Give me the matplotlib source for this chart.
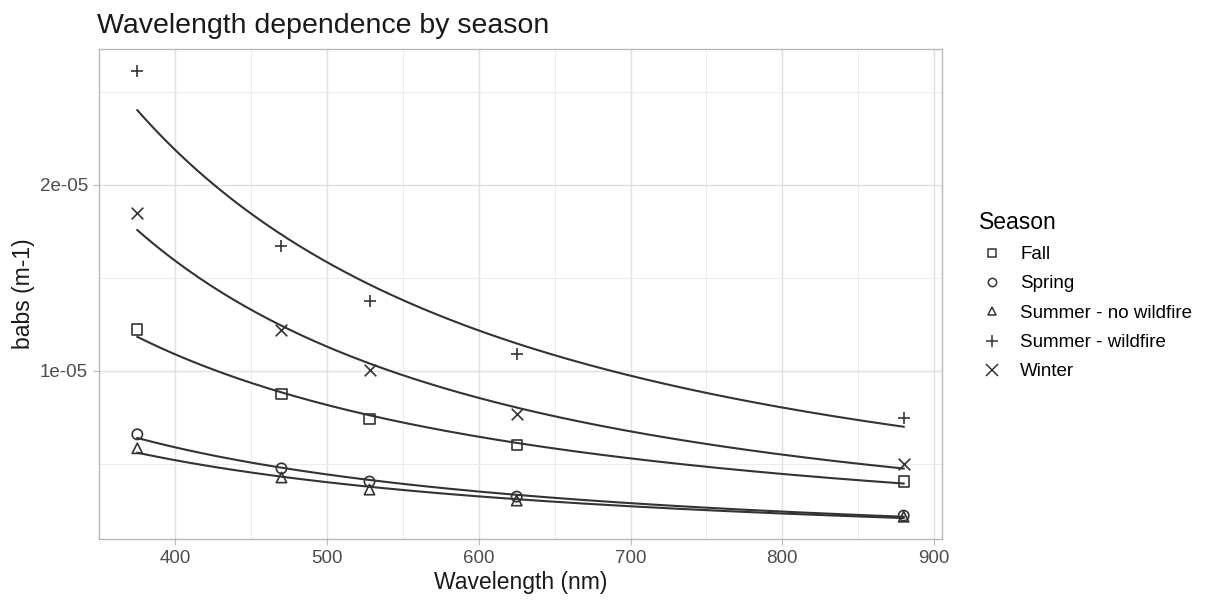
import numpy as np
import matplotlib.pyplot as plt
from matplotlib.lines import Line2D

plt.rcParams['font.family'] = ['Liberation Sans', 'DejaVu Sans']

# wavelengths (nm)
wavelength = np.array([375, 470, 528, 625, 880])

# mean absorption coefficient per season (m-1)
seasons = ["Fall", "Spring", "Summer - no wildfire", "Summer - wildfire", "Winter"]
babs_fall = [1.222e-05, 0.876e-05, 0.741e-05, 0.600e-05, 0.405e-05]
babs_spring = [0.659e-05, 0.476e-05, 0.405e-05, 0.324e-05, 0.222e-05]
babs_summer_nowf = [0.584e-05, 0.427e-05, 0.362e-05, 0.303e-05, 0.216e-05]
babs_summer_wf = [2.611e-05, 1.670e-05, 1.378e-05, 1.092e-05, 0.746e-05]
babs_winter = [1.849e-05, 1.222e-05, 1.005e-05, 0.768e-05, 0.497e-05]

values = [babs_fall, babs_spring, babs_summer_nowf, babs_summer_wf, babs_winter]
markers = ["s", "o", "^", "+", "x"]

fig = plt.figure(figsize=(12.07, 6.0), dpi=100)
ax = fig.add_axes([99 / 1207, 1 - 539 / 600, (942 - 99) / 1207, (539 - 49) / 600])

xs = np.linspace(wavelength.min(), wavelength.max(), 200)
for name, vals, m in zip(seasons, values, markers):
    vals = np.array(vals)
    # power law fit in log-log space
    b, a = np.polyfit(np.log(wavelength), np.log(vals), 1)
    ax.plot(xs, np.exp(a) * xs ** b, color="#333333", lw=1.5, zorder=2)
    if m in ("+", "x"):
        ax.scatter(wavelength, vals, marker=m, s=70, color="#333333",
                   linewidths=1.2, zorder=3)
    else:
        ax.scatter(wavelength, vals, marker=m, s=55, facecolors="none",
                   edgecolors="#333333", linewidths=1.2, zorder=3)

# ggplot-style 5% expansion
allv = np.concatenate([np.array(v) for v in values])
xr = wavelength.max() - wavelength.min()
yr = allv.max() - allv.min()
ax.set_xlim(wavelength.min() - 0.05 * xr, wavelength.max() + 0.05 * xr)
ax.set_ylim(allv.min() - 0.05 * yr, allv.max() + 0.05 * yr)

ax.set_xticks([400, 500, 600, 700, 800, 900])
ax.set_xticks([450, 550, 650, 750, 850], minor=True)
ax.set_yticks([1e-05, 2e-05])
ax.set_yticklabels(["1e-05", "2e-05"])
ax.set_yticks([0.5e-05, 1.5e-05, 2.5e-05], minor=True)

ax.grid(which="major", color="#e0e0e0", lw=1.0, zorder=0)
ax.grid(which="minor", color="#ececec", lw=0.7, zorder=0)
ax.set_axisbelow(True)
for s in ax.spines.values():
    s.set_color("#b8b8b8")
    s.set_linewidth(1.0)
ax.tick_params(which="major", length=4, color="#b8b8b8", labelsize=13.5,
               labelcolor="#4d4d4d", pad=4)
ax.tick_params(which="minor", length=0)

ax.set_xlabel("Wavelength (nm)", fontsize=16.5, color="#1a1a1a", labelpad=3)
ax.set_ylabel("babs (m-1)", fontsize=16.5, color="#1a1a1a", labelpad=3)
fig.text(97 / 1207, 1 - 33 / 600, "Wavelength dependence by season",
         fontsize=20.5, color="#1a1a1a")

# legend
handles = []
for name, m in zip(seasons, markers):
    if m in ("+", "x"):
        h = Line2D([], [], ls="none", marker=m, ms=8, color="#333333", mew=1.1)
    else:
        h = Line2D([], [], ls="none", marker=m, ms=6, mfc="none",
                   mec="#333333", mew=1.1)
    handles.append(h)
leg = fig.legend(handles, seasons, title="Season", loc="upper left",
                 bbox_to_anchor=(962 / 1207, 1 - 194 / 600), frameon=False,
                 fontsize=13.5, title_fontsize=16.5, handletextpad=0.8,
                 labelspacing=0.65, handlelength=1.4, alignment="left")

fig.savefig("out.png", dpi=100)
